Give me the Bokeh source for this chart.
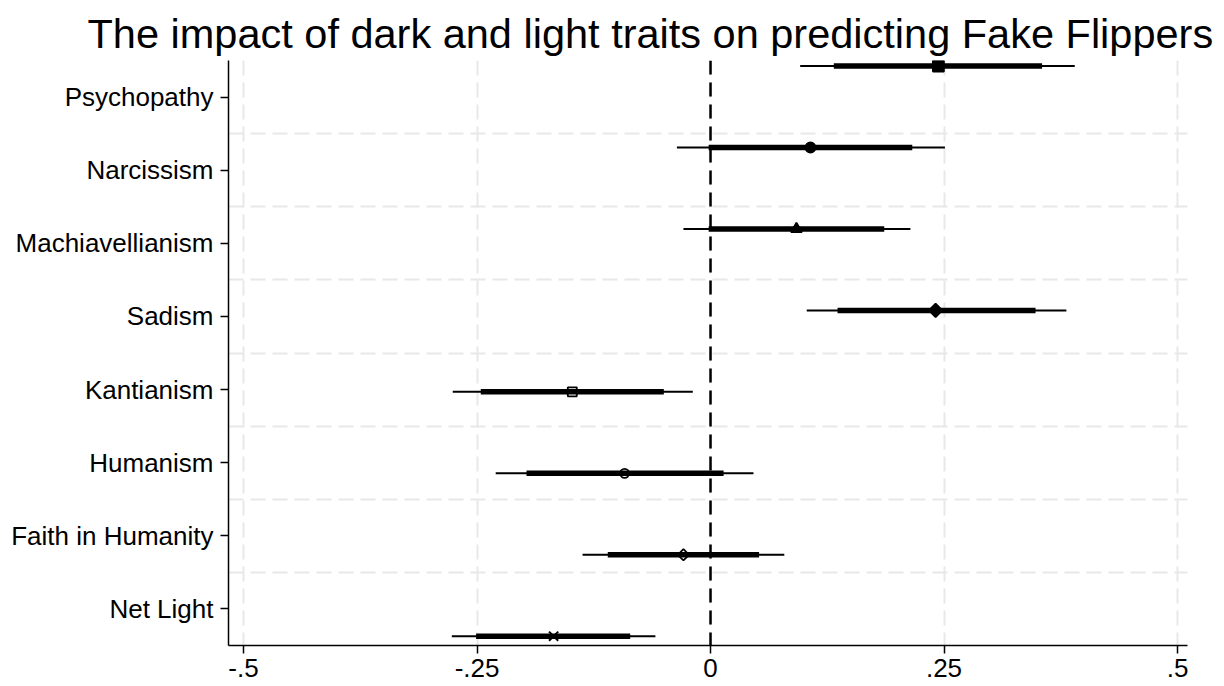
import numpy as np
from bokeh.plotting import figure
from bokeh.models import Range1d, FixedTicker, Span, Title
from bokeh.embed import file_html
from bokeh.resources import INLINE

# ---- data ----
traits = ["Psychopathy", "Narcissism", "Machiavellianism", "Sadism",
          "Kantianism", "Humanism", "Faith in Humanity", "Net Light"]
estimate = [0.244, 0.107, 0.092, 0.241, -0.148, -0.092, -0.029, -0.168]
ci_outer_lo = [0.096, -0.036, -0.029, 0.103, -0.276, -0.230, -0.137, -0.277]
ci_outer_hi = [0.390, 0.251, 0.214, 0.381, -0.019, 0.046, 0.079, -0.059]
ci_inner_lo = [0.132, -0.002, -0.002, 0.136, -0.246, -0.197, -0.110, -0.251]
ci_inner_hi = [0.355, 0.216, 0.186, 0.348, -0.050, 0.014, 0.052, -0.086]
x_ticks = [-0.5, -0.25, 0, 0.25, 0.5]
x_tick_labels = ["-.5", "-.25", "0", ".25", ".5"]
title_text = "The impact of dark and light traits on predicting Fake Flippers"

FONT = "Liberation Sans"

n = len(traits)
cat_pos = list(range(1, n + 1))
# markers are spread slightly wider than the label rows (as in the source graph)
marker_y = list(np.linspace(0.576, 8.373, n))

p = figure(width=1224, height=686, output_backend="svg", toolbar_location=None,
           x_range=Range1d(-0.5161, 0.5107), y_range=Range1d(8.5, 0.5),
           min_border_left=228, min_border_right=37, min_border_top=60,
           min_border_bottom=41)
p.outline_line_color = None
p.background_fill_color = "white"
p.border_fill_color = "white"

# title
p.title = Title(text=title_text, text_font=FONT, text_font_size="41.5px",
                text_font_style="normal", text_color="black",
                align="left", offset=-141, standoff=4, vertical_align="top")

# grids
grid_color = "#e8e8e8"
p.xgrid.ticker = FixedTicker(ticks=x_ticks)
p.xgrid.grid_line_color = grid_color
p.xgrid.grid_line_width = 2
p.xgrid.grid_line_dash = "15 7"
p.ygrid.ticker = FixedTicker(ticks=[c + 0.5 for c in cat_pos[:-1]])
p.ygrid.grid_line_color = grid_color
p.ygrid.grid_line_width = 2
p.ygrid.grid_line_dash = "15 7"

# axes
p.xaxis.ticker = FixedTicker(ticks=x_ticks)
p.xaxis.major_label_overrides = {t: l for t, l in zip(x_ticks, x_tick_labels)}
p.yaxis.ticker = FixedTicker(ticks=cat_pos)
p.yaxis.major_label_overrides = {c: t for c, t in zip(cat_pos, traits)}
for ax in (p.xaxis, p.yaxis):
    ax.axis_line_color = "black"
    ax.axis_line_width = 1.5
    ax.major_tick_line_color = "black"
    ax.major_tick_line_width = 1.5
    ax.major_tick_out = 8
    ax.major_tick_in = 0
    ax.minor_tick_line_color = None
    ax.major_label_text_font = FONT
    ax.major_label_text_font_size = "26px"
    ax.major_label_text_color = "black"
p.xaxis.major_label_standoff = 5
p.yaxis.major_label_standoff = 7

# zero reference line
p.add_layout(Span(location=0, dimension="height", line_color="black",
                  line_width=2.5, line_dash="14 8"))

# confidence intervals
p.segment(x0=ci_outer_lo, x1=ci_outer_hi, y0=marker_y, y1=marker_y,
          line_color="black", line_width=2, line_cap="butt")
p.segment(x0=ci_inner_lo, x1=ci_inner_hi, y0=marker_y, y1=marker_y,
          line_color="black", line_width=5.5, line_cap="butt")

# markers: (marker, size, filled, angle)
styles = [("square", 11, True, 0), ("circle", 10, True, 0), ("triangle", 11, True, 0),
          ("square", 9.5, True, np.pi / 4), ("square", 9, False, 0), ("circle", 9, False, 0),
          ("square", 8, False, np.pi / 4), ("x", 13, False, 0)]
for i, (m, s, filled, ang) in enumerate(styles):
    p.scatter(x=[estimate[i]], y=[marker_y[i]], marker=m, size=s, angle=ang,
              line_color="black", line_width=2 if m == "x" else 1.8,
              fill_color="black" if filled else "white",
              fill_alpha=1.0 if filled else 0.0)

open("out.html", "w").write(file_html(p, INLINE))
